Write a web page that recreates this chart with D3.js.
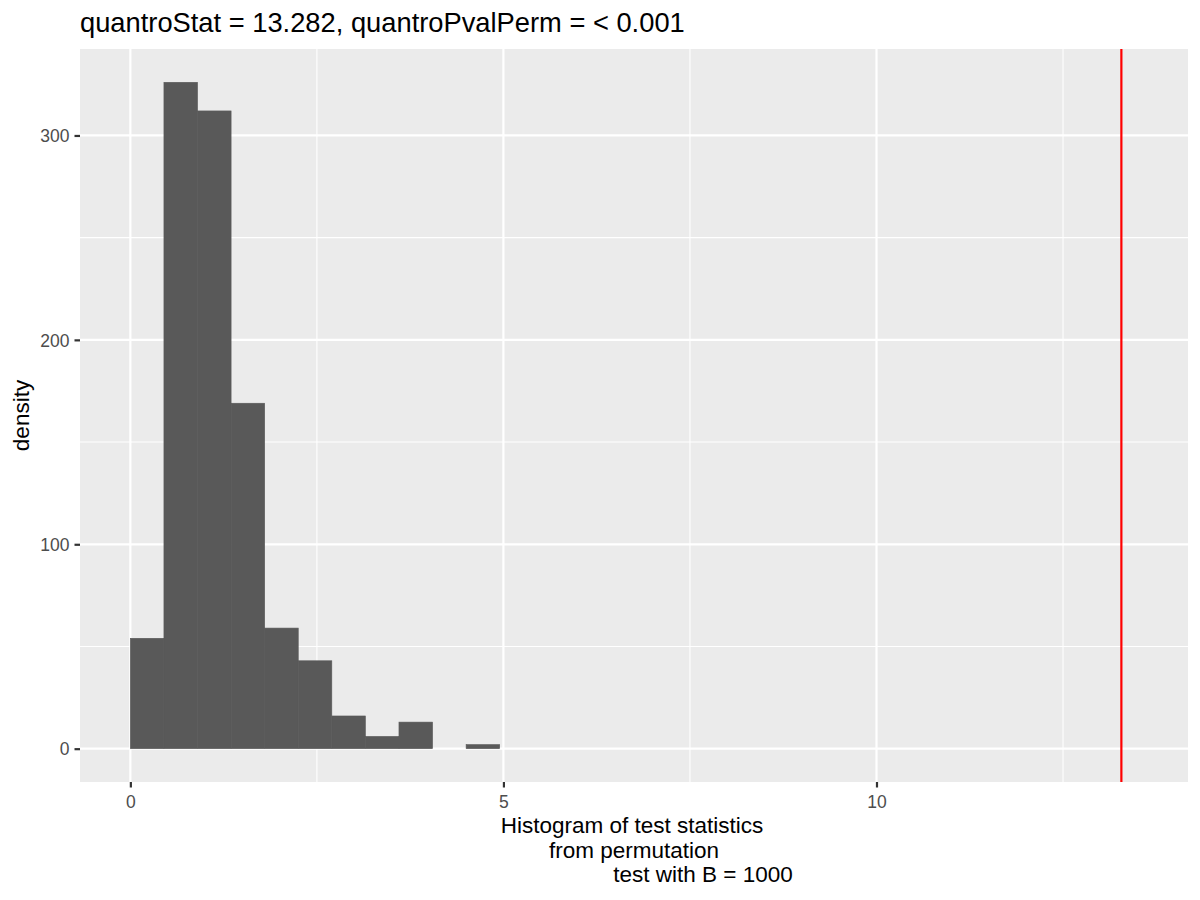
<!DOCTYPE html>
<html><head><meta charset="utf-8">
<script src="https://cdn.jsdelivr.net/npm/d3@7"></script>
<style>body{margin:0;background:#fff}svg{display:block}text{font-family:"Liberation Sans",Arial,sans-serif}</style>
</head><body>
<script>
const binStarts = [0, 0.45, 0.9, 1.35, 1.8, 2.25, 2.7, 3.15, 3.6, 4.05, 4.5];
const binWidth = 0.45;
const counts = [54, 326, 312, 169, 59, 43, 16, 6, 13, 0, 2];
const quantroStat = 13.282;
const xTicks = [0, 5, 10];
const xMinor = [2.5, 7.5, 12.5];
const yTicks = [0, 100, 200, 300];
const yMinor = [50, 150, 250];
const titleText = "quantroStat = 13.282, quantroPvalPerm = < 0.001";
const yLabel = "density";
const xLabelLines = ["Histogram of test statistics", "from permutation", "test with B = 1000"];

const W = 1200, H = 900;
const P = {l: 80, r: 1188, t: 49, b: 782};
const svg = d3.select("body").append("svg").attr("width", W).attr("height", H);

const x = d3.scaleLinear().domain([-0.675, 14.175]).range([P.l, P.r]);
const y = d3.scaleLinear().domain([-16.3, 342.3]).range([P.b, P.t]);

svg.append("rect").attr("x", P.l).attr("y", P.t).attr("width", P.r - P.l).attr("height", P.b - P.t).attr("fill", "#EBEBEB");

const g = svg.append("g");
g.selectAll(".vminor").data(xMinor).join("line")
  .attr("x1", d => x(d)).attr("x2", d => x(d)).attr("y1", P.t).attr("y2", P.b)
  .attr("stroke", "#fff").attr("stroke-width", 1.1);
g.selectAll(".hminor").data(yMinor).join("line")
  .attr("y1", d => y(d)).attr("y2", d => y(d)).attr("x1", P.l).attr("x2", P.r)
  .attr("stroke", "#fff").attr("stroke-width", 1.1);
g.selectAll(".vmajor").data(xTicks).join("line")
  .attr("x1", d => x(d)).attr("x2", d => x(d)).attr("y1", P.t).attr("y2", P.b)
  .attr("stroke", "#fff").attr("stroke-width", 2.2);
g.selectAll(".hmajor").data(yTicks).join("line")
  .attr("y1", d => y(d)).attr("y2", d => y(d)).attr("x1", P.l).attr("x2", P.r)
  .attr("stroke", "#fff").attr("stroke-width", 2.2);

svg.append("g").selectAll("rect").data(counts).join("rect")
  .attr("x", (d, i) => x(binStarts[i]))
  .attr("width", (d, i) => x(binStarts[i] + binWidth) - x(binStarts[i]))
  .attr("y", d => y(d))
  .attr("height", d => y(0) - y(d))
  .attr("fill", "#595959")
  .attr("stroke", d => d > 0 ? "#595959" : "none")
  .attr("stroke-width", 0.6);

svg.append("line").attr("x1", x(quantroStat)).attr("x2", x(quantroStat))
  .attr("y1", P.t).attr("y2", P.b).attr("stroke", "#FF0000").attr("stroke-width", 2.2);

// axes
const xAxis = d3.axisBottom(x).tickValues(xTicks).tickSize(5.5).tickPadding(5).tickFormat(d3.format("d"));
const xa = svg.append("g").attr("transform", `translate(0,${P.b})`).call(xAxis);
const yAxis = d3.axisLeft(y).tickValues(yTicks).tickSize(5.5).tickPadding(5).tickFormat(d3.format("d"));
const ya = svg.append("g").attr("transform", `translate(${P.l},0)`).call(yAxis);
[xa, ya].forEach(a => {
  a.select(".domain").remove();
  a.selectAll(".tick line").attr("stroke", "#333333").attr("stroke-width", 2.2);
  a.selectAll(".tick text").attr("fill", "#4D4D4D").style("font-size", "17.5px");
});
xa.selectAll(".tick text").attr("dy", null).attr("y", 25.5);
ya.selectAll(".tick text").attr("dy", "0.36em").attr("x", -10.5);

svg.append("text").attr("x", P.l).attr("y", 32).style("font-size", "27.3px").attr("fill", "#000").text(titleText);

svg.append("text").attr("transform", `translate(28.5,${(P.t + P.b) / 2}) rotate(-90)`)
  .attr("text-anchor", "middle").style("font-size", "22.5px").attr("fill", "#000").text(yLabel);

const xc = (P.l + P.r) / 2;
const lineOffsets = [-133.3, -85, -20.7];
const lineBase = [833.3, 857.7, 882];
xLabelLines.forEach((t, i) => {
  svg.append("text").attr("x", xc + lineOffsets[i]).attr("y", lineBase[i])
    .style("font-size", "22.5px").attr("fill", "#000").text(t);
});
</script>
</body></html>
